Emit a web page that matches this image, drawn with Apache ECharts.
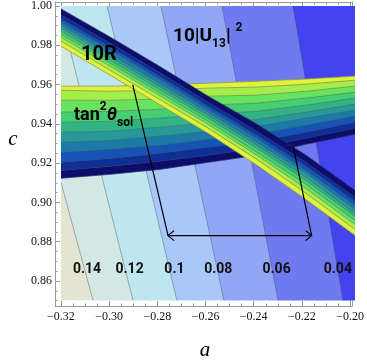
<!DOCTYPE html>
<html>
<head>
<meta charset="utf-8">
<script src="https://cdn.jsdelivr.net/npm/echarts@6/dist/echarts.min.js"></script>
<style>
  html, body { margin: 0; padding: 0; background: #fff; }
  #chart { width: 367px; height: 362px; }
</style>
</head>
<body>
<div id="chart"></div>
<script>
// frame ticks
const xMajor = [-0.32, -0.30, -0.28, -0.26, -0.24, -0.22, -0.20];
const xMinor = [-0.315, -0.31, -0.305, -0.295, -0.29, -0.285, -0.275, -0.27, -0.265,
  -0.255, -0.25, -0.245, -0.235, -0.23, -0.225, -0.215, -0.21, -0.205];
const yMajor = [0.86, 0.88, 0.90, 0.92, 0.94, 0.96, 0.98, 1.00];
const yMinor = [0.85, 0.855, 0.865, 0.87, 0.875, 0.885, 0.89, 0.895, 0.905, 0.91, 0.915,
  0.925, 0.93, 0.935, 0.945, 0.95, 0.955, 0.965, 0.97, 0.975, 0.985, 0.99, 0.995];

// 10|U13|^2 background contours: a where each line meets c = 1.00 and c = 0.85
const u13Levels = [0.14, 0.12, 0.10, 0.08, 0.06, 0.04];
const u13TopA = [-0.3396, -0.3208, -0.3012, -0.2792, -0.2543, -0.2253];
const u13BotA = [-0.3069, -0.2906, -0.2727, -0.2535, -0.2314, -0.2049];
const u13LabelText = ['0.14', '0.12', '0.1', '0.08', '0.06', '0.04'];
const u13LabelA = [-0.3094, -0.2920, -0.2737, -0.2558, -0.2320, -0.2070];
const u13LabelC = 0.8656;

// sample columns for the two bands
const bandA = [-0.32, -0.30, -0.28, -0.26, -0.24, -0.22, -0.20];

// tan^2 theta_sol band, contour boundaries from the dark edge (bottom) to the yellow edge (top)
const tanBounds = [
  [0.9123, 0.9143, 0.9168, 0.9204, 0.9240, 0.9296, 0.9347],
  [0.9163, 0.9184, 0.9209, 0.9240, 0.9276, 0.9327, 0.9378],
  [0.9204, 0.9224, 0.9250, 0.9281, 0.9311, 0.9357, 0.9408],
  [0.9255, 0.9270, 0.9291, 0.9321, 0.9347, 0.9393, 0.9439],
  [0.9306, 0.9316, 0.9337, 0.9362, 0.9388, 0.9429, 0.9469],
  [0.9357, 0.9362, 0.9383, 0.9403, 0.9423, 0.9459, 0.9500],
  [0.9408, 0.9413, 0.9429, 0.9449, 0.9464, 0.9495, 0.9531],
  [0.9459, 0.9464, 0.9474, 0.9495, 0.9505, 0.9531, 0.9561],
  [0.9520, 0.9520, 0.9526, 0.9541, 0.9546, 0.9566, 0.9592],
  [0.9571, 0.9566, 0.9571, 0.9582, 0.9587, 0.9602, 0.9622],
  [0.9592, 0.9592, 0.9597, 0.9607, 0.9617, 0.9628, 0.9643]
];

// 10R band, boundaries from the dark edge (top) to the yellow edge (bottom)
const rBounds = [
  [0.9985, 0.9842, 0.9694, 0.9541, 0.9398, 0.9240, 0.9061],
  [0.9954, 0.9811, 0.9663, 0.9510, 0.9362, 0.9204, 0.9026],
  [0.9934, 0.9791, 0.9643, 0.9490, 0.9342, 0.9184, 0.9005],
  [0.9918, 0.9776, 0.9628, 0.9474, 0.9327, 0.9163, 0.8985],
  [0.9903, 0.9755, 0.9607, 0.9459, 0.9306, 0.9148, 0.8964],
  [0.9888, 0.9740, 0.9592, 0.9444, 0.9291, 0.9128, 0.8944],
  [0.9872, 0.9724, 0.9577, 0.9429, 0.9276, 0.9112, 0.8929],
  [0.9857, 0.9709, 0.9561, 0.9413, 0.9255, 0.9092, 0.8908],
  [0.9842, 0.9694, 0.9546, 0.9398, 0.9240, 0.9071, 0.8888],
  [0.9821, 0.9673, 0.9526, 0.9378, 0.9219, 0.9046, 0.8862],
  [0.9796, 0.9648, 0.9500, 0.9352, 0.9189, 0.9015, 0.8832]
];

// bracket between the two crossing points
const leftLeg = [[-0.2907, 0.9598], [-0.2763, 0.8831]];
const rightLeg = [[-0.2252, 0.9284], [-0.2177, 0.8831]];

const u13Colors = ['#e3e4d2', '#d3e8e5', '#bee6ee', '#a9c7f8', '#91a7f6', '#6f7af1', '#4343ef'];
const levelColors = ['#0d0d6b', '#0f2f96', '#1553b5', '#1c7aa8', '#27999a',
  '#33b384', '#45cf72', '#68e35f', '#a4ee4a', '#dff23c'];
const lineGray = 'rgba(70,70,90,0.5)';

const chart = echarts.init(document.getElementById('chart'));

function renderU13(params, api) {
  const children = [];
  const tl = api.coord([-0.32, 1.0]);
  const br = api.coord([-0.20, 0.85]);
  children.push({ type: 'rect', shape: { x: tl[0], y: tl[1], width: br[0] - tl[0], height: br[1] - tl[1] },
    style: { fill: u13Colors[0] } });
  u13Levels.forEach((lv, i) => {
    const pts = [api.coord([u13TopA[i], 1.0]), api.coord([-0.20, 1.0]),
      api.coord([-0.20, 0.85]), api.coord([u13BotA[i], 0.85])];
    children.push({ type: 'polygon', shape: { points: pts }, style: { fill: u13Colors[i + 1] } });
  });
  u13Levels.forEach((lv, i) => {
    children.push({ type: 'polyline',
      shape: { points: [api.coord([u13TopA[i], 1.0]), api.coord([u13BotA[i], 0.85])] },
      style: { stroke: lineGray, lineWidth: 0.8, fill: null } });
  });
  return { type: 'group', children };
}

function bandRenderer(bounds) {
  return function (params, api) {
    const children = [];
    for (let k = 0; k < bounds.length - 1; k++) {
      const lo = bandA.map((a, j) => api.coord([a, bounds[k][j]]));
      const hi = bandA.map((a, j) => api.coord([a, bounds[k + 1][j]])).reverse();
      children.push({ type: 'polygon', shape: { points: lo.concat(hi) },
        style: { fill: levelColors[k], stroke: levelColors[k], lineWidth: 0.5 } });
    }
    bounds.forEach((b) => {
      children.push({ type: 'polyline', shape: { points: bandA.map((a, j) => api.coord([a, b[j]])) },
        style: { stroke: lineGray, lineWidth: 0.8, fill: null } });
    });
    return { type: 'group', children };
  };
}

function renderLabels(params, api) {
  return { type: 'group', children: u13LabelText.map((t, i) => {
    const p = api.coord([u13LabelA[i], u13LabelC]);
    return { type: 'text', x: p[0], y: p[1],
      style: { text: t, font: 'bold 14px Roboto', fill: '#111', align: 'center', verticalAlign: 'middle' } };
  }) };
}

function renderBracket(params, api) {
  const L0 = api.coord(leftLeg[0]), L1 = api.coord(leftLeg[1]);
  const R0 = api.coord(rightLeg[0]), R1 = api.coord(rightLeg[1]);
  const st = { stroke: '#000', lineWidth: 1.2, fill: null };
  return { type: 'group', children: [
    { type: 'polyline', shape: { points: [L0, L1] }, style: st },
    { type: 'polyline', shape: { points: [R0, R1] }, style: st },
    { type: 'polyline', shape: { points: [L1, R1] }, style: st },
    { type: 'polyline', shape: { points: [[L1[0] + 6, L1[1] - 5], L1, [L1[0] + 6, L1[1] + 5]] }, style: st },
    { type: 'polyline', shape: { points: [[R1[0] - 6, R1[1] - 5], R1, [R1[0] - 6, R1[1] + 5]] }, style: st }
  ] };
}

const frameX = { min: -0.322449, max: -0.199184 };
const frameY = { min: 0.847251, max: 1.002037 };
const frameLine = { show: true, onZero: false, lineStyle: { color: '#9a9a9a', width: 1 } };
const tickStyle = { color: '#9a9a9a', width: 1 };

function fmtX(v) { return (v < 0 ? '\u2212' : '') + Math.abs(v).toFixed(2); }

chart.setOption({
  animation: false,
  grid: [
    { left: 61, right: 12, top: 6, bottom: 61.4 },
    { left: 55, right: 10, top: 2, bottom: 56 }
  ],
  xAxis: [
    { gridIndex: 0, type: 'value', min: -0.32, max: -0.20, show: false },
    { gridIndex: 1, type: 'value', position: 'bottom', ...frameX, axisLine: frameLine,
      axisTick: { inside: true, length: 5, lineStyle: tickStyle, customValues: xMajor },
      axisLabel: { customValues: xMajor, formatter: fmtX, fontFamily: 'Liberation Serif', fontSize: 12, color: '#111', margin: 5 },
      splitLine: { show: false } },
    { gridIndex: 1, type: 'value', position: 'bottom', ...frameX, axisLine: { show: false },
      axisTick: { inside: true, length: 2.5, lineStyle: tickStyle, customValues: xMinor },
      axisLabel: { show: false }, splitLine: { show: false } },
    { gridIndex: 1, type: 'value', position: 'top', ...frameX, axisLine: frameLine,
      axisTick: { inside: true, length: 5, lineStyle: tickStyle, customValues: xMajor },
      axisLabel: { show: false }, splitLine: { show: false } },
    { gridIndex: 1, type: 'value', position: 'top', ...frameX, axisLine: { show: false },
      axisTick: { inside: true, length: 2.5, lineStyle: tickStyle, customValues: xMinor },
      axisLabel: { show: false }, splitLine: { show: false } }
  ],
  yAxis: [
    { gridIndex: 0, type: 'value', min: 0.85, max: 1.00, show: false },
    { gridIndex: 1, type: 'value', position: 'left', ...frameY, axisLine: frameLine,
      axisTick: { inside: true, length: 5, lineStyle: tickStyle, customValues: yMajor },
      axisLabel: { customValues: yMajor, formatter: (v) => v.toFixed(2), fontFamily: 'Liberation Serif', fontSize: 12, color: '#111', margin: 3 },
      splitLine: { show: false } },
    { gridIndex: 1, type: 'value', position: 'left', ...frameY, axisLine: { show: false },
      axisTick: { inside: true, length: 2.5, lineStyle: tickStyle, customValues: yMinor },
      axisLabel: { show: false }, splitLine: { show: false } },
    { gridIndex: 1, type: 'value', position: 'right', ...frameY, axisLine: frameLine,
      axisTick: { inside: true, length: 5, lineStyle: tickStyle, customValues: yMajor },
      axisLabel: { show: false }, splitLine: { show: false } },
    { gridIndex: 1, type: 'value', position: 'right', ...frameY, axisLine: { show: false },
      axisTick: { inside: true, length: 2.5, lineStyle: tickStyle, customValues: yMinor },
      axisLabel: { show: false }, splitLine: { show: false } }
  ],
  series: [
    { type: 'custom', xAxisIndex: 0, yAxisIndex: 0, clip: true, z: 1, data: [[-0.26, 0.92]], renderItem: renderU13 },
    { type: 'custom', xAxisIndex: 0, yAxisIndex: 0, clip: true, z: 2, data: [[-0.26, 0.92]], renderItem: bandRenderer(tanBounds) },
    { type: 'custom', xAxisIndex: 0, yAxisIndex: 0, clip: true, z: 3, data: [[-0.26, 0.92]], renderItem: bandRenderer(rBounds) },
    { type: 'custom', xAxisIndex: 0, yAxisIndex: 0, z: 4, data: [[-0.26, 0.92]], renderItem: renderLabels },
    { type: 'custom', xAxisIndex: 0, yAxisIndex: 0, z: 5, data: [[-0.26, 0.92]], renderItem: renderBracket }
  ],
  graphic: [
    { type: 'text', x: 81, y: 55, z: 10,
      style: { text: '10R', font: 'bold 20px Roboto', fill: '#000', verticalAlign: 'middle' } },
    { type: 'text', x: 74, y: 101, z: 10,
      style: { text: '{m|tan}{s|2}{t|θ}{d|sol}', verticalAlign: 'top',
        rich: {
          m: { font: 'bold 18px Roboto', fill: '#000', lineHeight: 28, verticalAlign: 'middle' },
          s: { font: 'bold 12px Roboto', fill: '#000', lineHeight: 13, verticalAlign: 'top' },
          t: { font: 'italic bold 18px Roboto', fill: '#000', lineHeight: 28, verticalAlign: 'middle' },
          d: { font: 'bold 12px Roboto', fill: '#000', lineHeight: 17, verticalAlign: 'bottom' }
        } } },
    { type: 'text', x: 173, y: 22, z: 10,
      style: { text: '{m|10|U}{d|13}{m|| }{s|2}', verticalAlign: 'top',
        rich: {
          m: { font: 'bold 19px Roboto', fill: '#000', lineHeight: 28, verticalAlign: 'middle' },
          s: { font: 'bold 12px Roboto', fill: '#000', lineHeight: 13, verticalAlign: 'top' },
          d: { font: 'bold 12px Roboto', fill: '#000', lineHeight: 17, verticalAlign: 'bottom' }
        } } },
    { type: 'text', x: 205, y: 350,
      style: { text: 'a', font: "italic 21px 'Liberation Serif'", fill: '#000', align: 'center', verticalAlign: 'middle' } },
    { type: 'text', x: 13, y: 139,
      style: { text: 'c', font: "italic 21px 'Liberation Serif'", fill: '#000', align: 'center', verticalAlign: 'middle' } }
  ]
});
</script>
</body>
</html>
